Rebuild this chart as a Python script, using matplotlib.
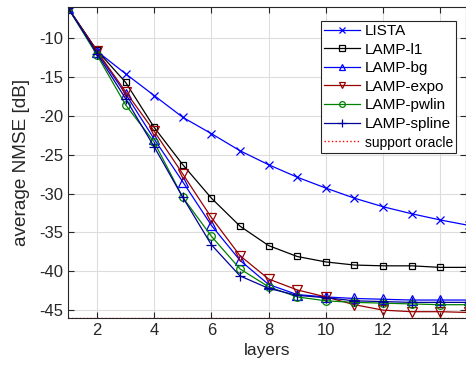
import matplotlib
matplotlib.use("Agg")
import matplotlib.pyplot as plt

plt.rcParams['font.family'] = ['Liberation Sans', 'DejaVu Sans']
plt.rcParams['axes.unicode_minus'] = False

layers = list(range(1, 16))
lista = [-6.2, -11.7, -14.6, -17.4, -20.2, -22.3, -24.5, -26.3, -27.9, -29.3,
         -30.6, -31.7, -32.6, -33.4, -34.1]
lamp_l1 = [-6.2, -11.6, -15.7, -21.5, -26.3, -30.6, -34.2, -36.7, -38.1, -38.8,
           -39.2, -39.3, -39.3, -39.5, -39.5]
lamp_bg = [-6.2, -11.8, -17.2, -23.0, -28.5, -34.1, -38.6, -41.7, -43.0, -43.3,
           -43.5, -43.6, -43.7, -43.7, -43.7]
lamp_expo = [-6.2, -11.7, -16.9, -22.0, -27.5, -33.1, -38.0, -41.0, -42.4, -43.3,
             -44.3, -45.0, -45.2, -45.2, -45.3]
lamp_pwlin = [-6.2, -12.2, -18.6, -23.4, -30.5, -35.5, -39.7, -42.0, -43.3, -43.8,
              -44.0, -44.1, -44.2, -44.3, -44.3]
lamp_spline = [-6.2, -12.0, -17.8, -24.0, -30.5, -36.6, -40.6, -42.2, -43.1, -43.4,
               -43.8, -43.9, -44.0, -44.0, -44.0]
oracle = -45.95

fig = plt.figure(figsize=(4.66, 3.65), dpi=100)
ax = fig.add_axes([0.1468, 0.129, 0.8532, 0.852])

# marcadores huecos, estilo MATLAB
kw = dict(lw=0.9, mew=0.9, mfc='none')
ax.plot(layers, lista, color='#0000ff', marker='x', ms=5.5, label='LISTA', **kw)
ax.plot(layers, lamp_l1, color='black', marker='s', ms=5, label='LAMP-l1', **kw)
ax.plot(layers, lamp_bg, color='#0000ff', marker='^', ms=6.5, label='LAMP-bg', **kw)
ax.plot(layers, lamp_expo, color='#990000', marker='v', ms=6.5, label='LAMP-expo', **kw)
ax.plot(layers, lamp_pwlin, color='#008000', marker='o', ms=5.5, label='LAMP-pwlin', **kw)
ax.plot(layers, lamp_spline, color='#000099', marker='+', ms=7.5, label='LAMP-spline', **kw)
ax.axhline(oracle, color='red', ls=':', lw=1.0, label='support oracle')

ax.set_xlim(1, 14.9)
ax.set_ylim(-46, -6)
ax.set_xticks([2, 4, 6, 8, 10, 12, 14])
ax.set_yticks([-10, -15, -20, -25, -30, -35, -40, -45])
ax.grid(True, color='#dddddd', lw=0.8)
ax.set_axisbelow(True)
ax.tick_params(direction='in', top=True, right=True, labelsize=12, colors='#262626', length=4)
for s in ax.spines.values():
    s.set_color('#262626')
    s.set_linewidth(0.8)
ax.set_xlabel('layers', fontsize=12.5, color='#262626')
ax.set_ylabel('average NMSE [dB]', fontsize=13.7, color='#262626', labelpad=7)

leg = ax.legend(loc='upper right', bbox_to_anchor=(456 / 466, 1 - 21 / 365),
                bbox_transform=fig.transFigure, borderaxespad=0, fontsize=11,
                fancybox=False, edgecolor='#262626', framealpha=1, markerscale=0.75,
                handlelength=2.35, borderpad=0.2, labelspacing=0.3, handletextpad=0.3)
leg.get_frame().set_linewidth(0.8)
leg.get_texts()[-1].set_fontsize(10)

plt.savefig('out.png', dpi=100)
